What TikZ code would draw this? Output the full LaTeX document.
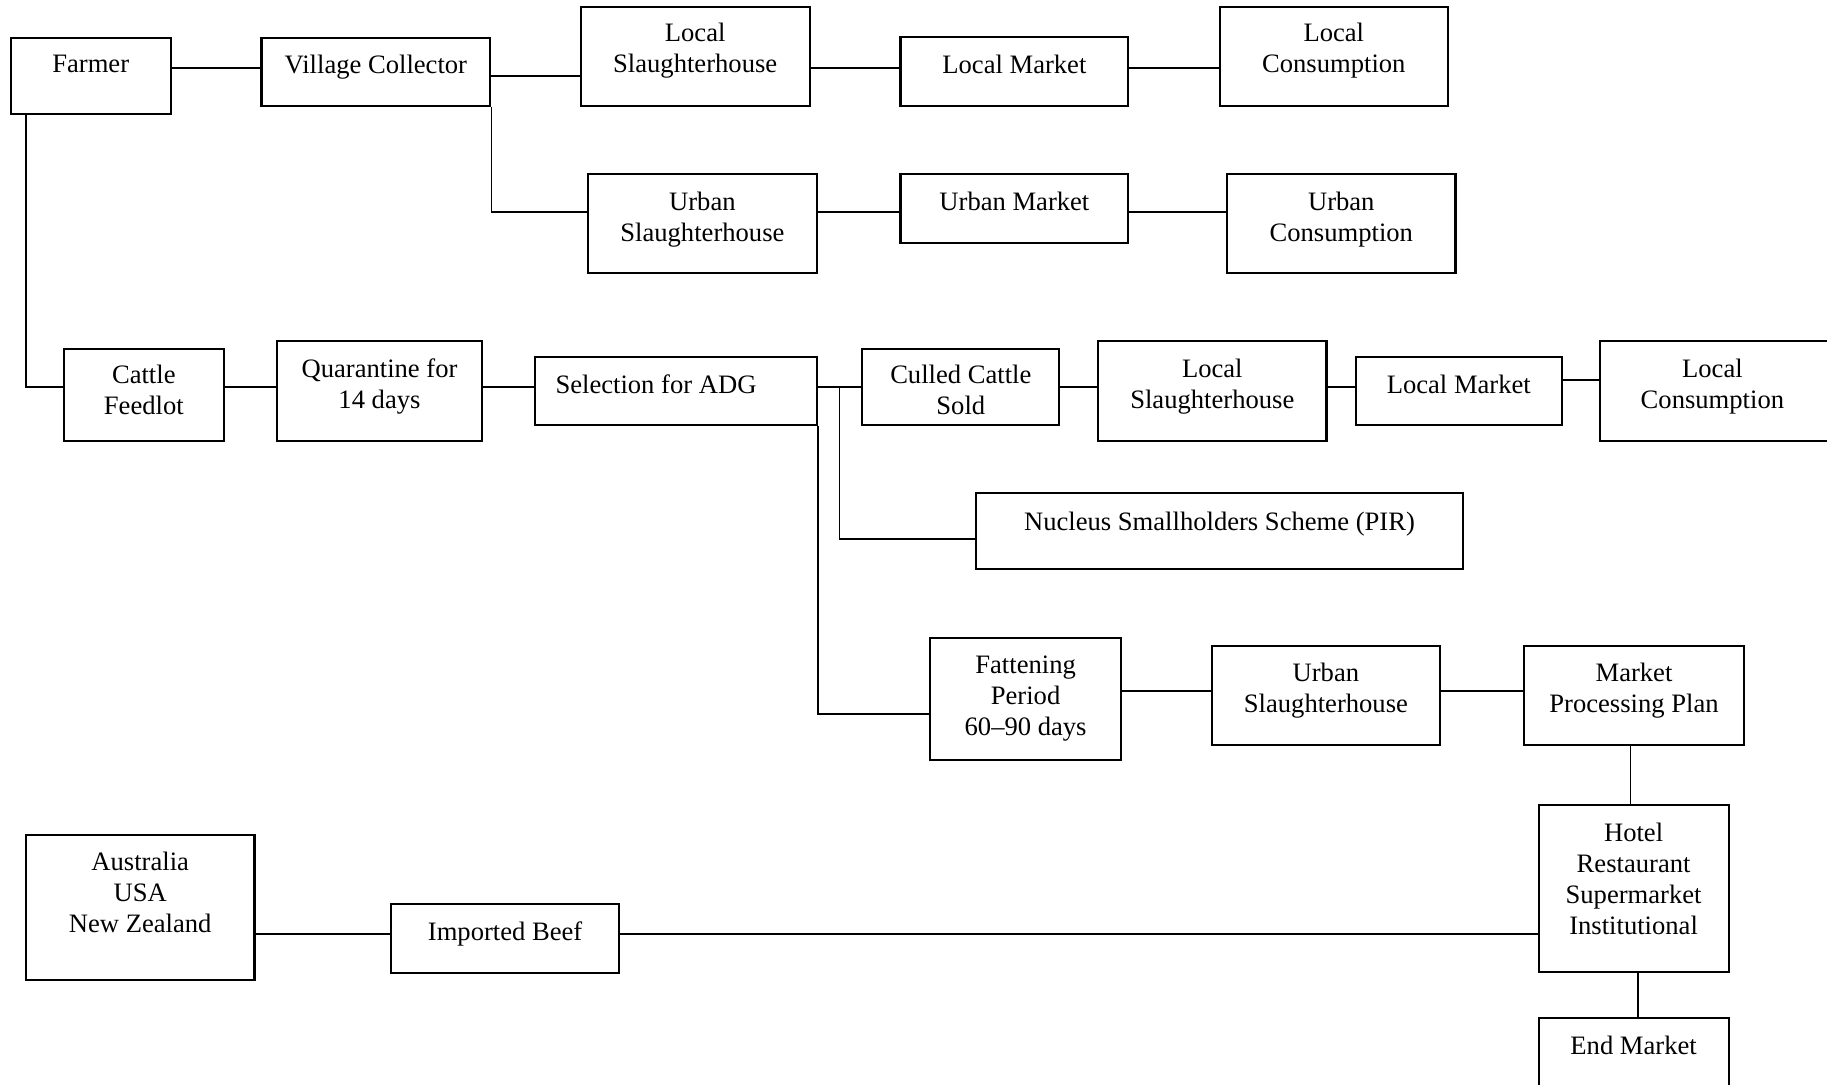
\documentclass[tikz,border=0pt]{standalone}
\usepackage{fontspec}
\setmainfont{Liberation Serif}
\tikzset{
  box/.style={draw=black, line width=1.1pt, rectangle, inner sep=0pt, fill=white},
  txt/.style={inner sep=0pt, anchor=north, align=center, font=\fontsize{13.3pt}{15.5pt}\selectfont},
  conn/.style={draw=black, line width=0.9pt}
}
\newcommand\mybox[8]{%
  \pgfmathsetmacro\bw{(#4-#2)*0.5}%
  \pgfmathsetmacro\bh{(#5-#3)*0.5}%
  \node[box, minimum width=\bw pt, minimum height=\bh pt] (#1) at ({(#2+#4)/2},{(#3+#5)/2}) {};
  \node[txt] (#1-t) at (#6,{#7-19}) {#8};
}
\begin{document}
\begin{tikzpicture}[x=0.5pt,y=-0.5pt]
\useasboundingbox (0,0) rectangle (1827,1085);
\fill[white] (0,0) rectangle (1827,1085);
\clip (0,0) rectangle (1827,1085);

% boxes: name, x1, y1, x2, y2, text x, first baseline, text
\mybox{farmer}{10.7}{37.7}{170.8}{113.7}{90.75}{74}{Farmer}
\mybox{vc}{261.4}{37.7}{490.3}{106}{375.9}{73.5}{Village Collector}
\mybox{ls1}{580.7}{6.7}{809.7}{106.3}{695.2}{42}{Local\\Slaughterhouse}
\mybox{lm1}{900.4}{37.3}{1128.3}{106.3}{1014.4}{73.5}{Local Market}
\mybox{lc1}{1219.6}{6.7}{1448}{106.3}{1333.8}{42}{Local\\Consumption}
\mybox{us1}{588.1}{173.7}{816.6}{273.3}{702.4}{210.7}{Urban\\Slaughterhouse}
\mybox{um1}{900.4}{173.7}{1128.3}{242.7}{1014.4}{210.7}{Urban Market}
\mybox{uc1}{1227}{173.7}{1455.5}{273.3}{1341.3}{210.7}{Urban\\Consumption}
\mybox{cf}{63.7}{349}{223.9}{440.7}{143.8}{384}{Cattle\\Feedlot}
\mybox{q}{276.7}{341.3}{482.2}{440.7}{379.5}{377.5}{Quarantine for\\14 days}
\mybox{sel}{535}{356.7}{816.9}{425.3}{656}{393.5}{Selection for ADG}
\mybox{culled}{862.2}{349}{1059.3}{425.3}{960.8}{383.5}{Culled Cattle\\Sold}
\mybox{ls2}{1098}{341.3}{1326.5}{440.7}{1212.3}{377.3}{Local\\Slaughterhouse}
\mybox{lm2}{1356}{356.7}{1561.6}{425.3}{1458.8}{393.5}{Local Market}
\mybox{lc2}{1599.6}{341.3}{1900}{440.7}{1712.4}{377.3}{Local\\Consumption}
\mybox{nuc}{976.2}{493}{1462.7}{569.3}{1219.5}{530.2}{Nucleus Smallholders Scheme (PIR)}
\mybox{fat}{930.3}{637.7}{1120.9}{760}{1025.6}{674}{Fattening\\Period\\60–90 days}
\mybox{us2}{1211.9}{645.7}{1439.8}{744.7}{1325.9}{682}{Urban\\Slaughterhouse}
\mybox{mpp}{1523.6}{645.7}{1744.3}{744.7}{1634}{682}{Market\\Processing Plan}
\mybox{hotel}{1538.7}{805.3}{1728.6}{972.3}{1633.6}{841.3}{Hotel\\Restaurant\\Supermarket\\Institutional}
\mybox{end}{1538.7}{1017.7}{1728.6}{1140}{1633.6}{1054.7}{End Market}
\mybox{aus}{25.9}{835.3}{254.5}{980.3}{140.2}{871}{Australia\\USA\\New Zealand}
\mybox{imp}{391}{903.7}{619.2}{972.7}{505.1}{940.2}{Imported Beef}

% level coordinates
\coordinate (ya) at (0,67.7);
\coordinate (yb) at (0,75.7);
\coordinate (yc) at (0,212);
\coordinate (yd) at (0,386.7);
\coordinate (ye) at (0,380);
\coordinate (yf) at (0,539);
\coordinate (yg) at (0,713.7);
\coordinate (yh) at (0,690.7);
\coordinate (yi) at (0,934.3);
\coordinate (xk) at (1630.4,0);
\coordinate (xl) at (1637.6,0);
\coordinate (j1) at (26.3,386.7);
\coordinate (br) at (839.5,386.7);

% connectors
\draw[conn] (farmer.east |- ya) -- (vc.west |- ya);
\draw[conn] (vc.east |- yb) -- (ls1.west |- yb);
\draw[conn] (vc.south east) |- (us1.west |- yc);
\draw[conn] (ls1.east |- ya) -- (lm1.west |- ya);
\draw[conn] (lm1.east |- ya) -- (lc1.west |- ya);
\draw[conn] (us1.east |- yc) -- (um1.west |- yc);
\draw[conn] (um1.east |- yc) -- (uc1.west |- yc);
\draw[conn] (farmer.south -| j1) -- (j1) -- (cf.west |- j1);
\draw[conn] (cf.east |- yd) -- (q.west |- yd);
\draw[conn] (q.east |- yd) -- (sel.west |- yd);
\draw[conn] (sel.east |- yd) -- (culled.west |- yd);
\draw[conn] (br) |- (nuc.west |- yf);
\draw[conn] (sel.south east) |- (fat.west |- yg);
\draw[conn] (culled.east |- yd) -- (ls2.west |- yd);
\draw[conn] (ls2.east |- yd) -- (lm2.west |- yd);
\draw[conn] (lm2.east |- ye) -- (lc2.west |- ye);
\draw[conn] (fat.east |- yh) -- (us2.west |- yh);
\draw[conn] (us2.east |- yh) -- (mpp.west |- yh);
\draw[conn] (mpp.south -| xk) -- (hotel.north -| xk);
\draw[conn] (hotel.south -| xl) -- (end.north -| xl);
\draw[conn] (aus.east |- yi) -- (imp.west |- yi);
\draw[conn] (imp.east |- yi) -- (hotel.west |- yi);
\end{tikzpicture}
\end{document}
